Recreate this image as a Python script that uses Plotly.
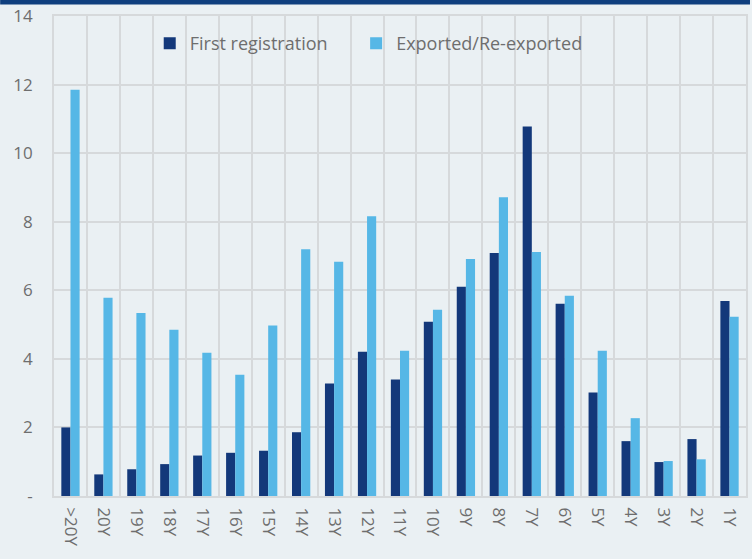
import plotly.graph_objects as go

categories = [">20Y", "20Y", "19Y", "18Y", "17Y", "16Y", "15Y", "14Y", "13Y", "12Y", "11Y",
              "10Y", "9Y", "8Y", "7Y", "6Y", "5Y", "4Y", "3Y", "2Y", "1Y"]
first_registration = [2.00, 0.63, 0.78, 0.93, 1.18, 1.26, 1.32, 1.86, 3.28, 4.21, 3.40,
                      5.08, 6.10, 7.09, 10.78, 5.61, 3.02, 1.60, 0.99, 1.66, 5.69]
exported = [11.85, 5.78, 5.34, 4.85, 4.18, 3.54, 4.97, 7.20, 6.83, 8.16, 4.24,
            5.43, 6.91, 8.71, 7.12, 5.84, 4.24, 2.27, 1.02, 1.07, 5.23]
y_tickvals = [0, 2, 4, 6, 8, 10, 12, 14]
y_ticktext = ["-", "2", "4", "6", "8", "10", "12", "14"]

DARK = "#13387A"
LIGHT = "#56B7E6"
BG = "#EAF0F3"
GRID = "#D6D9DB"
TXT = "#6E6E6E"
FONT = "Open Sans"

fig = go.Figure()
fig.add_trace(go.Bar(x=categories, y=first_registration, name="First registration",
                     legend="legend",
                     marker=dict(color=DARK, line=dict(width=0))))
fig.add_trace(go.Bar(x=categories, y=exported, name="Exported/Re-exported",
                     legend="legend2",
                     marker=dict(color=LIGHT, line=dict(width=0))))

leg_common = dict(orientation="h", y=(496 - 42.5) / 481, xanchor="left", yanchor="middle",
                  bgcolor="rgba(0,0,0,0)", font=dict(size=18, color=TXT), itemwidth=30)

fig.update_layout(
    width=752, height=559,
    paper_bgcolor=BG, plot_bgcolor=BG,
    margin=dict(l=54, r=4, t=15, b=63, pad=0),
    barmode="group", bargap=0.445, bargroupgap=0,
    font=dict(family=FONT, color=TXT, size=17),
    legend=dict(x=(150 - 54) / 694, **leg_common),
    legend2=dict(x=(357 - 54) / 694, **leg_common),
    showlegend=True,
)
fig.update_xaxes(type="category", tickson="boundaries", showgrid=True, gridcolor=GRID, gridwidth=1.7,
                 tickangle=90, ticks="", showline=True, linecolor=GRID, linewidth=2, mirror=True,
                 ticklabelstandoff=6, tickfont=dict(size=17, color=TXT))
fig.update_yaxes(range=[0, 14], tickvals=y_tickvals, ticktext=y_ticktext, showgrid=True,
                 gridcolor=GRID, gridwidth=1.7, zeroline=False, showline=True, linecolor=GRID,
                 linewidth=1.7, mirror=True, ticks="", ticklabelstandoff=16,
                 tickfont=dict(size=17, color=TXT))

# top dark band
fig.add_shape(type="rect", xref="paper", yref="paper",
              x0=-54 / 694, x1=(752 - 54) / 694, y0=1 + 11.5 / 481, y1=1 + 16 / 481,
              fillcolor="#0F3F7E", line=dict(width=0), layer="above")

fig.write_html("out.html", config={"displayModeBar": False},
               post_script="document.body.style.margin='0';document.body.style.background='" + BG + "';document.body.style.overflow='hidden';")
